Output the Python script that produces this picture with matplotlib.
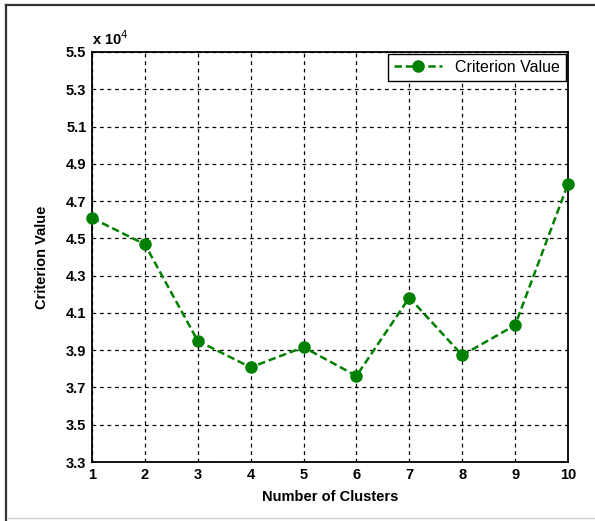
import numpy as np
import matplotlib.pyplot as plt
from matplotlib.ticker import FuncFormatter
from matplotlib.lines import Line2D

# Data
clusters = [1, 2, 3, 4, 5, 6, 7, 8, 9, 10]
criterion = [46090, 44680, 39500, 38080, 39160, 37620, 41820, 38730, 40340, 47920]
x_ticks = [1, 2, 3, 4, 5, 6, 7, 8, 9, 10]
y_ticks = [33000, 35000, 37000, 39000, 41000, 43000, 45000, 47000, 49000, 51000, 53000, 55000]

plt.rcParams['font.family'] = ['Liberation Sans', 'DejaVu Sans']

fig = plt.figure(figsize=(5.95, 5.21), dpi=100)
ax = fig.add_axes([0.1546, 0.1132, 0.80, 0.787])

# frame lines of the screenshot (top, left dark; bottom light)
W, H = 595, 521
fig.add_artist(Line2D([6 / W, 1], [1 - 5 / H, 1 - 5 / H], transform=fig.transFigure,
                      color='#333333', lw=1.6))
fig.add_artist(Line2D([6 / W, 6 / W], [0, 1 - 5 / H], transform=fig.transFigure,
                      color='#333333', lw=1.6))
fig.add_artist(Line2D([7 / W, 1], [3 / H, 3 / H], transform=fig.transFigure,
                      color='#d0d0d0', lw=1.0))

ax.plot(clusters, criterion, color='#008000', ls='--', lw=1.8, marker='o',
        markersize=8, label='Criterion Value', dashes=(3, 1.5), clip_on=False, zorder=5)

ax.set_xlim(1, 10)
ax.set_ylim(33000, 55000)
ax.set_xticks(x_ticks)
ax.set_yticks(y_ticks)
ax.yaxis.set_major_formatter(FuncFormatter(lambda v, p: f"{v / 1e4:.1f}"))
ax.grid(True, color='black', ls=(0, (3, 3)), lw=0.9)
ax.tick_params(direction='in', length=0, labelsize=10.5, pad=4)
for lbl in ax.get_xticklabels() + ax.get_yticklabels():
    lbl.set_fontweight('bold')
for s in ax.spines.values():
    s.set_linewidth(1.3)

ax.text(0.0, 1.01, r'x 10$^{4}$', transform=ax.transAxes, fontsize=10.5,
        fontweight='bold', ha='left', va='bottom')

ax.set_xlabel('Number of Clusters', fontsize=10.5, fontweight='bold', labelpad=6)
ax.set_ylabel('Criterion Value', fontsize=10.5, fontweight='bold', labelpad=12)

leg = ax.legend(loc='upper right', fontsize=11.5, fancybox=False, framealpha=1,
                edgecolor='black', borderaxespad=0.1, handlelength=3)
leg.get_frame().set_linewidth(1.0)

fig.savefig('out.png', dpi=100)
